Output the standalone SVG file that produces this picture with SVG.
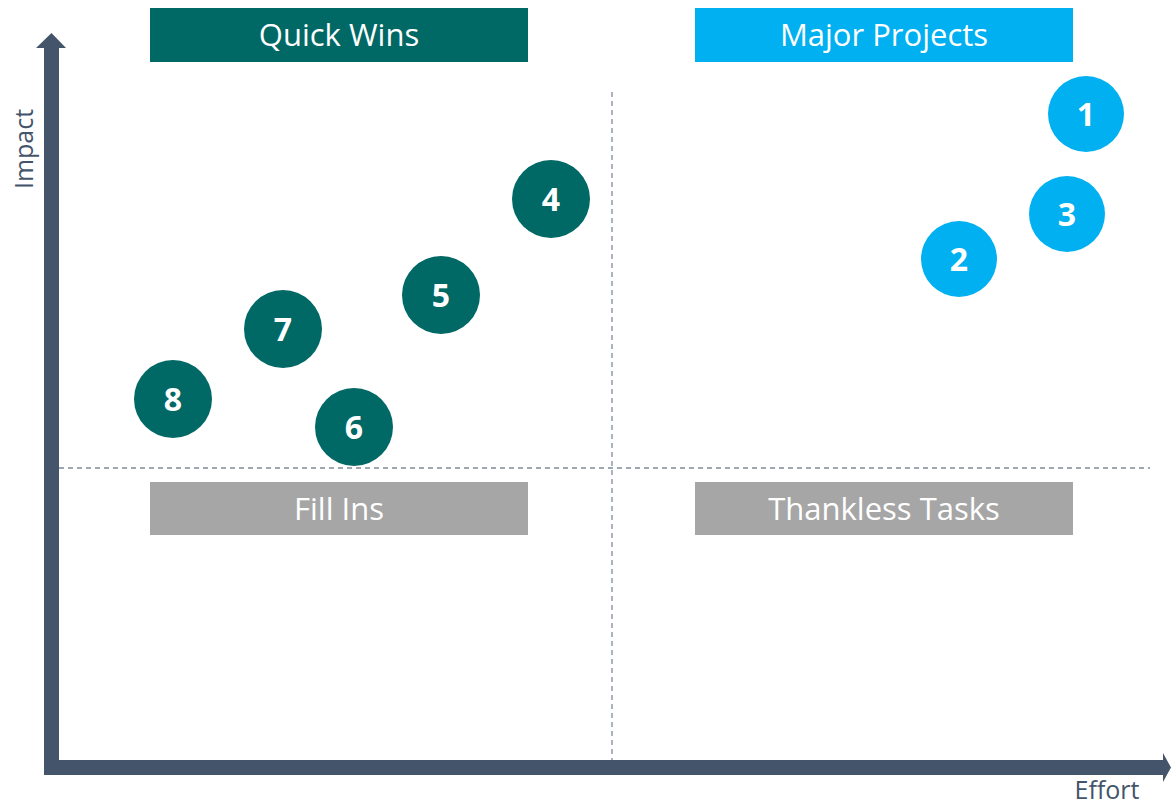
<svg xmlns="http://www.w3.org/2000/svg" width="1171" height="807" viewBox="0 0 1171 807">
  <style>
    .label { font-family: "Open Sans", "Liberation Sans", sans-serif; font-size: 31px; fill: #ffffff; text-anchor: middle; }
    .num { font-family: "Open Sans", "Liberation Sans", sans-serif; font-size: 32px; font-weight: bold; fill: #ffffff; text-anchor: middle; }
    .axis-label { font-family: "Open Sans", "Liberation Sans", sans-serif; font-size: 25px; fill: #44546A; }
    .guide { stroke: #7F8A99; stroke-width: 1.3; stroke-dasharray: 5 4; fill: none; }
    .teal { fill: #006865; }
    .blue { fill: #00B0F0; }
    .grey { fill: #A6A6A6; }
  </style>
  <rect width="1171" height="807" fill="#ffffff"/>

  <!-- quadrant guides -->
  <g id="guides">
    <line class="guide" x1="612" y1="92" x2="612" y2="760"/>
    <line class="guide" x1="59" y1="468" x2="1150" y2="468"/>
  </g>

  <!-- axes -->
  <g id="axes" fill="#44546A">
    <polygon points="44,775 44,48 36,48 51.5,33 66,48 59,48 59,760 1163,760 1163,753 1171,767.5 1163,782 1163,775"/>
    <text class="axis-label" transform="translate(33,149) rotate(-90)" text-anchor="middle">Impact</text>
    <text class="axis-label" x="1107" y="799" text-anchor="middle">Effort</text>
  </g>

  <!-- quadrant headers -->
  <g id="quick-wins">
    <rect class="teal" x="150" y="8" width="378" height="54"/>
    <text class="label" x="339" y="46">Quick Wins</text>
  </g>
  <g id="major-projects">
    <rect class="blue" x="695" y="8" width="378" height="54"/>
    <text class="label" x="884" y="46">Major Projects</text>
  </g>
  <g id="fill-ins">
    <rect class="grey" x="150" y="482" width="378" height="53"/>
    <text class="label" x="339" y="520">Fill Ins</text>
  </g>
  <g id="thankless-tasks">
    <rect class="grey" x="695" y="482" width="378" height="53"/>
    <text class="label" x="884" y="520">Thankless Tasks</text>
  </g>

  <!-- plotted items -->
  <g id="item-1"><circle class="blue" cx="1086" cy="114" r="38"/><text class="num" x="1086" y="126">1</text></g>
  <g id="item-2"><circle class="blue" cx="959" cy="259" r="38"/><text class="num" x="959" y="271">2</text></g>
  <g id="item-3"><circle class="blue" cx="1067" cy="214" r="38"/><text class="num" x="1067" y="226">3</text></g>
  <g id="item-4"><circle class="teal" cx="551" cy="199" r="39"/><text class="num" x="551" y="211">4</text></g>
  <g id="item-5"><circle class="teal" cx="441" cy="295" r="39"/><text class="num" x="441" y="307">5</text></g>
  <g id="item-6"><circle class="teal" cx="354" cy="427" r="39"/><text class="num" x="354" y="439">6</text></g>
  <g id="item-7"><circle class="teal" cx="283" cy="329" r="39"/><text class="num" x="283" y="341">7</text></g>
  <g id="item-8"><circle class="teal" cx="173" cy="399" r="39"/><text class="num" x="173" y="411">8</text></g>
</svg>
